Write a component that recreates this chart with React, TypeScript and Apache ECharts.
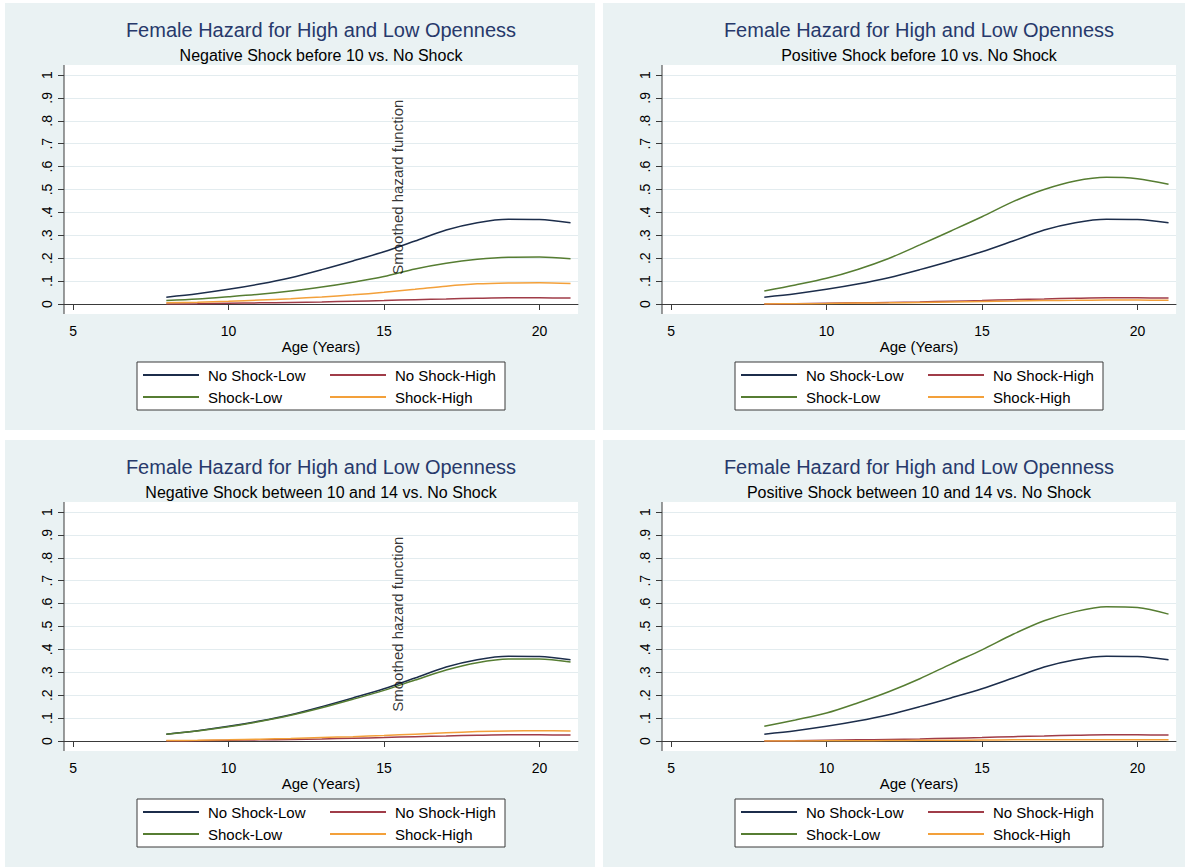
import React, { useEffect, useRef } from "react";
import * as echarts from "echarts";

// ---------- data ----------
const ages = [8, 9, 10, 11, 12, 13, 14, 15, 16, 17, 18, 19, 20, 21];

// baseline groups (identical in every panel)
const noShockLow = [0.03, 0.045, 0.064, 0.087, 0.115, 0.15, 0.188, 0.228, 0.275, 0.323, 0.355, 0.37, 0.369, 0.355];
const noShockHigh = [0.0, 0.001, 0.003, 0.005, 0.007, 0.009, 0.012, 0.015, 0.019, 0.022, 0.025, 0.027, 0.027, 0.026];

// Negative shock before 10
const negBefore10Low = [0.015, 0.022, 0.032, 0.043, 0.057, 0.074, 0.095, 0.12, 0.153, 0.178, 0.195, 0.204, 0.205, 0.198];
const negBefore10High = [0.005, 0.008, 0.012, 0.017, 0.023, 0.031, 0.04, 0.051, 0.064, 0.078, 0.088, 0.092, 0.093, 0.089];

// Positive shock before 10
const posBefore10Low = [0.057, 0.083, 0.112, 0.151, 0.199, 0.258, 0.319, 0.381, 0.447, 0.5, 0.537, 0.553, 0.547, 0.523];
const posBefore10High = [0.0, 0.001, 0.002, 0.004, 0.005, 0.007, 0.009, 0.011, 0.013, 0.015, 0.016, 0.017, 0.017, 0.016];

// Negative shock between 10 and 14
const negBetweenLow = [0.03, 0.044, 0.062, 0.085, 0.112, 0.145, 0.182, 0.221, 0.266, 0.31, 0.342, 0.358, 0.358, 0.345];
const negBetweenHigh = [0.002, 0.003, 0.005, 0.008, 0.011, 0.015, 0.019, 0.024, 0.03, 0.036, 0.041, 0.044, 0.045, 0.044];

// Positive shock between 10 and 14
const posBetweenLow = [0.064, 0.092, 0.122, 0.166, 0.215, 0.272, 0.336, 0.398, 0.466, 0.525, 0.565, 0.586, 0.583, 0.554];
const posBetweenHigh = [0.0, 0.0, 0.001, 0.001, 0.002, 0.003, 0.003, 0.004, 0.005, 0.005, 0.006, 0.006, 0.006, 0.006];

const seriesNames = ["No Shock-Low", "No Shock-High", "Shock-Low", "Shock-High"];
const mainTitle = "Female Hazard for High and Low Openness";
const subtitles = [
  "Negative Shock before 10 vs. No Shock",
  "Positive Shock before 10 vs. No Shock",
  "Negative Shock between 10 and 14 vs. No Shock",
  "Positive Shock between 10 and 14 vs. No Shock",
];
const xTicks = [5, 10, 15, 20];
const yTickValues = [0, 0.1, 0.2, 0.3, 0.4, 0.5, 0.6, 0.7, 0.8, 0.9, 1];
const yTickLabels = ["0", ".1", ".2", ".3", ".4", ".5", ".6", ".7", ".8", ".9", "1"];
const xAxisTitle = "Age (Years)";
const annotationText = "Smoothed hazard function";
const annotationPoint = [15.45, 0.51];

// ---------- styling ----------
const colors = ["#1c2d4b", "#a03c48", "#567d32", "#f3a03a"];
const panelBg = "#eaf2f3";
const gridLineColor = "#e3ecef";
const axisColor = "#3a3a3a";
const titleColor = "#27396b";
const FONT = "'Liberation Sans', Arial, Helvetica, sans-serif";

const PANEL_W = 590;
const PANEL_H = 427;
const panelOrigins = [
  [5, 3],
  [603, 3],
  [5, 440],
  [603, 440],
];
const PLOT_LEFT = 59;
const PLOT_W = 514;
const PLOT_TOP = 62;
const PLOT_H = 249;
const Y0_TOP = 72; // y=1 line
const Y0_H = 229; // 0..1 span

export default function App() {
  const ref = useRef<HTMLDivElement>(null);

  useEffect(() => {
    if (!ref.current) return;
    const chart = echarts.init(ref.current, null, { renderer: "svg" });

    const panels = [
      { low: negBefore10Low, high: negBefore10High, note: true },
      { low: posBefore10Low, high: posBefore10High, note: false },
      { low: negBetweenLow, high: negBetweenHigh, note: true },
      { low: posBetweenLow, high: posBetweenHigh, note: false },
    ];

    const grids: any[] = [];
    const xAxes: any[] = [];
    const yAxes: any[] = [];
    const series: any[] = [];
    const legends: any[] = [];
    const titles: any[] = [];
    const graphics: any[] = [];

    panels.forEach((p, i) => {
      const [px, py] = panelOrigins[i];
      const cx = px + PLOT_LEFT + PLOT_W / 2;

      graphics.push({
        type: "rect",
        z: -10,
        shape: { x: px, y: py, width: PANEL_W, height: PANEL_H },
        style: { fill: panelBg },
      });
      graphics.push({
        type: "rect",
        z: -9,
        shape: { x: px + PLOT_LEFT, y: py + PLOT_TOP, width: PLOT_W, height: PLOT_H },
        style: { fill: "#ffffff" },
      });
      graphics.push({
        type: "line",
        z: 5,
        shape: {
          x1: px + PLOT_LEFT,
          y1: py + PLOT_TOP,
          x2: px + PLOT_LEFT,
          y2: py + PLOT_TOP + PLOT_H,
        },
        style: { stroke: axisColor, lineWidth: 1 },
      });
      graphics.push({
        type: "rect",
        z: -8,
        shape: { x: px + 132, y: py + 359, width: 368, height: 48 },
        style: { fill: "#ffffff", stroke: axisColor, lineWidth: 1 },
      });

      titles.push({
        text: mainTitle,
        left: cx,
        top: py + 17,
        textAlign: "center",
        padding: 0,
        textStyle: { fontSize: 20, fontWeight: "normal", color: titleColor, fontFamily: FONT },
      });
      titles.push({
        text: subtitles[i],
        left: cx,
        top: py + 44,
        textAlign: "center",
        padding: 0,
        textStyle: { fontSize: 16, fontWeight: "normal", color: "#000", fontFamily: FONT },
      });

      grids.push({
        left: px + PLOT_LEFT,
        top: py + Y0_TOP,
        width: PLOT_W,
        height: Y0_H,
        containLabel: false,
      });

      xAxes.push({
        gridIndex: i,
        type: "value",
        min: 4.71,
        max: 21.24,
        offset: 10,
        axisLine: { show: true, lineStyle: { color: axisColor, width: 1 } },
        axisTick: { show: true, customValues: xTicks, length: 6, lineStyle: { color: axisColor } },
        axisLabel: {
          customValues: xTicks,
          fontSize: 14,
          color: "#000",
          margin: 10,
          fontFamily: FONT,
        },
        splitLine: { show: false },
        name: xAxisTitle,
        nameLocation: "middle",
        nameGap: 24,
        nameTextStyle: { fontSize: 15, color: "#000", fontFamily: FONT },
      });

      yAxes.push({
        gridIndex: i,
        type: "value",
        min: 0,
        max: 1,
        interval: 0.1,
        axisLine: { show: false },
        axisTick: { show: true, length: 6, lineStyle: { color: axisColor } },
        axisLabel: { show: false },
        splitLine: { show: true, lineStyle: { color: gridLineColor, width: 1.2 } },
      });

      const dataSets = [noShockLow, noShockHigh, p.low, p.high];
      dataSets.forEach((arr, k) => {
        series.push({
          type: "line",
          name: seriesNames[k],
          xAxisIndex: i,
          yAxisIndex: i,
          data: ages.map((a, j) => [a, arr[j]]),
          showSymbol: false,
          symbol: "none",
          smooth: 0.3,
          lineStyle: { color: colors[k], width: 1.5 },
          itemStyle: { color: colors[k] },
          z: 3 + k,
        });
      });

      if (p.note) {
        series.push({
          type: "scatter",
          name: "annotation",
          xAxisIndex: i,
          yAxisIndex: i,
          data: [annotationPoint],
          symbolSize: 1,
          itemStyle: { color: "rgba(0,0,0,0)" },
          silent: true,
          z: 10,
          label: {
            show: true,
            position: "inside",
            rotate: 90,
            formatter: annotationText,
            fontSize: 15,
            color: "#000",
            fontFamily: FONT,
          },
        });
      }

      const legendBase = {
        orient: "vertical",
        top: py + 364.5,
        itemWidth: 56,
        itemHeight: 2,
        itemGap: 7,
        icon: "rect",
        padding: 0,
        selectedMode: false,
        textStyle: { fontSize: 15, color: "#000", fontFamily: FONT, padding: [0, 0, 0, 4] },
      };
      legends.push({ ...legendBase, left: px + 138, data: [seriesNames[0], seriesNames[2]] });
      legends.push({ ...legendBase, left: px + 325, data: [seriesNames[1], seriesNames[3]] });
    });

    chart.setOption({
      animation: false,
      backgroundColor: "#ffffff",
      textStyle: { fontFamily: FONT },
      title: titles,
      grid: grids,
      xAxis: xAxes,
      yAxis: yAxes,
      legend: legends,
      series,
      graphic: { elements: graphics },
    });

    // rotated y tick labels, placed through the y scale of each grid
    const labelEls: any[] = [];
    panels.forEach((_, i) => {
      const [px] = panelOrigins[i];
      yTickValues.forEach((v, k) => {
        const pt = chart.convertToPixel({ gridIndex: i } as any, [5, v]) as number[];
        labelEls.push({
          type: "text",
          x: px + PLOT_LEFT - 17,
          y: pt[1],
          rotation: Math.PI / 2,
          z: 6,
          style: {
            text: yTickLabels[k],
            align: "center",
            verticalAlign: "middle",
            fontSize: 14,
            fontFamily: FONT,
            fill: "#000",
          },
        });
      });
    });
    chart.setOption({ graphic: { elements: graphics.concat(labelEls) } });

    return () => chart.dispose();
  }, []);

  return (
    <div
      ref={ref}
      style={{ position: "absolute", left: 0, top: 0, width: 1185, height: 867, background: "#fff" }}
    />
  );
}
